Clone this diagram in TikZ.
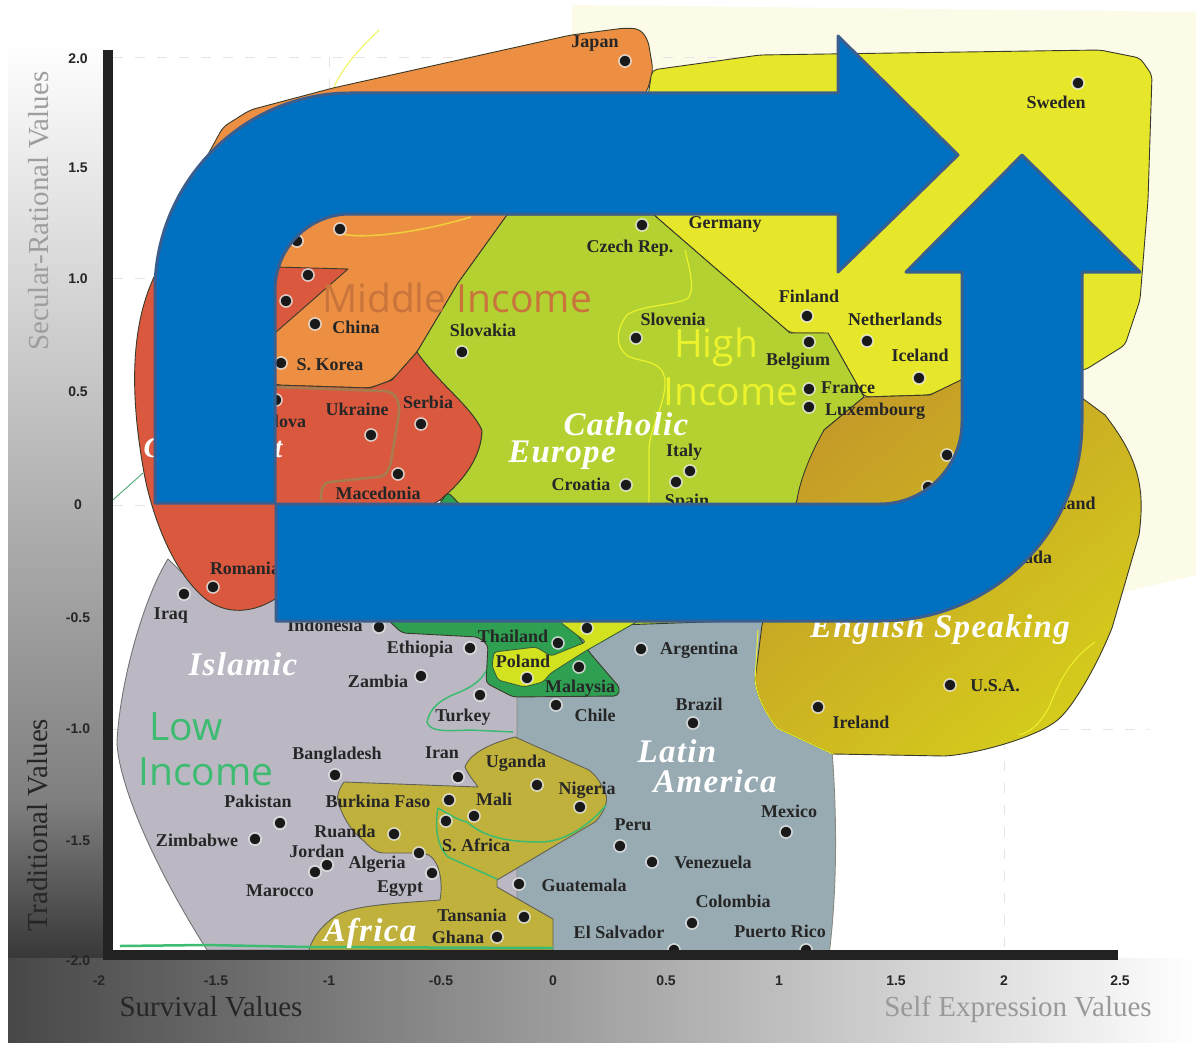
\documentclass[tikz,border=0pt]{standalone}
\usepackage{fontspec}
\setmainfont{Liberation Serif}
\newfontfamily\regfont{Open Sans}
\newfontfamily\tickfont{Liberation Sans}
\newfontfamily\bigfont[LetterSpace=4]{Liberation Serif}
\definecolor{cOrange}{HTML}{EC8F42}
\definecolor{cRed}{HTML}{D9583E}
\definecolor{cCath}{HTML}{B3D231}
\definecolor{cProt}{HTML}{E6E62B}
\definecolor{cEngA}{HTML}{C49A28}
\definecolor{cEngB}{HTML}{D5CC1C}
\definecolor{cLatin}{HTML}{98ABB3}
\definecolor{cIslam}{HTML}{BBB8C4}
\definecolor{cAfrica}{HTML}{BFB13C}
\definecolor{cGreen}{HTML}{2F9F52}
\definecolor{cLemon}{HTML}{D3E21F}
\definecolor{cPale}{HTML}{FBFBE8}
\definecolor{cLine}{HTML}{3A3A2A}
\definecolor{cLow}{HTML}{3DBB70}
\definecolor{cBlue}{HTML}{0070C0}
\definecolor{cBlueEdge}{HTML}{3A5F8F}
\definecolor{cAxis}{HTML}{222222}
\definecolor{cBrown}{HTML}{A87C4E}
\definecolor{cMid}{HTML}{C8743C}
\definecolor{cHigh}{HTML}{ECF22C}
\definecolor{cOrLine}{HTML}{F2CC3C}
\tikzset{
  x=1pt,y=-1pt,
  region/.style={draw=cLine,line width=0.9pt,line join=round},
  dotmark/.style={circle,fill=black!90,draw=white,draw opacity=0.75,line width=1.5pt,minimum size=12pt,inner sep=0pt},
  lab/.style={font=\fontsize{18}{18}\selectfont\bfseries,text=black!85,inner sep=0pt,text height=12pt,text depth=0pt},
  big/.style={font=\bigfont\fontsize{33}{33}\selectfont\bfseries\itshape,text=white,inner sep=0pt,text height=21pt,text depth=0pt},
  inc/.style={font=\regfont\fontsize{39}{39}\selectfont,inner sep=0pt},
  tick/.style={font=\tickfont\fontsize{14}{14}\selectfont\bfseries,text=black!85,inner sep=0pt},
  axt/.style={font=\fontsize{29}{29}\selectfont,inner sep=0pt},
  grid/.style={draw=black!10,line width=0.9pt,dash pattern=on 10pt off 12pt},
  bluearrow/.style={fill=cBlue,draw=cBlueEdge,line width=3pt,line join=round},
}
\begin{document}
\begin{tikzpicture}
\useasboundingbox (0,0) rectangle (1196,1043);
\fill[white] (0,0) rectangle (1196,1043);
% pale backdrop
\fill[cPale] (572,5) -- (1196,12) -- (1196,575) -- (1125,592) -- (1000,600) -- (572,600) -- cycle;
% side and bottom gradients
\shade[top color=white,bottom color=black!50] (8,40) rectangle (103,800);
\shade[top color=black!50,bottom color=black!78] (8,800) rectangle (103,958);
\shade[left color=black!72,middle color=black!30,right color=white] (8,958) rectangle (1196,1043);
\fill[white] (103,40) rectangle (113,958);
% grid
\draw[grid] (113,57) -- (1120,57);
\draw[grid] (113,278) -- (1120,278);
\draw[grid] (113,505) -- (1120,505);
\draw[grid] (113,729) -- (1150,729);
\draw[grid] (329,57) -- (329,950);
\draw[grid] (1004,57) -- (1004,950);
% thin lines outside the regions
\draw[cHigh!75!white,line width=1.1pt] (379,30) .. controls (360,48) and (340,70) .. (333,90);
\draw[cLow!70!gray,line width=0.9pt] (105,507) -- (143,473);
% Islamic
\path[region,draw=black!55,fill=cIslam] (168,559) .. controls (145,595) and (120,680) .. (117,742) .. controls (118,780) and (150,860) .. (207,950) -- (553,950) -- (517,600) -- (200,590) -- cycle;
% Latin America
\path[region,draw=cLine!60,fill=cLatin] (517,950) -- (517,600) -- (790,600) -- (790,725) -- (830,745) -- (832,750) .. controls (838,830) and (836,900) .. (829,955) -- cycle;
% Orange
\path[region,fill=cOrange,rounded corners=6pt] (640,29) -- (625,28) -- (571,35) -- (333,88) -- (250,110) -- (223,127) -- (205,160) -- (160,280) -- (275,385) -- (370,388) -- (392,380) -- (417,352) -- (458,283) -- (507,215) -- (647,92) -- (653,70) -- (648,40) -- cycle;
% Orthodox red
\path[region,fill=cRed] (154,277) .. controls (134,320) and (128,380) .. (143,467) .. controls (150,510) and (170,565) .. (199,593) .. controls (220,615) and (250,615) .. (275,599) -- (440,500) .. controls (465,480) and (482,455) .. (482,430) .. controls (470,405) and (440,385) .. (417,352) -- (392,380) -- (370,388) -- (275,385) -- (275,333) -- (348,269) -- (275,267) -- cycle;
\draw[cBrown,line width=2.6pt] (274,387) -- (385,391) .. controls (395,392) and (400,400) .. (399,413) -- (392,455) .. controls (390,472) and (385,477) .. (377,477) -- (330,482) .. controls (322,483) and (321,490) .. (321,500);
% Protestant yellow
\path[region,fill=cProt,rounded corners=5pt] (652,70) -- (760,55) -- (1100,50) -- (1140,58) -- (1152,75) -- (1148,200) -- (1140,300) -- (1125,345) -- (1085,370) -- (962,380) -- (930,395) -- (864,397) -- (828,333) -- (790,333) -- (654,215) -- (640,150) -- cycle;
% Catholic
\path[region,fill=cCath] (507,215) -- (654,215) -- (790,333) -- (828,333) -- (864,397) -- (824,430) -- (797,500) -- (760,620) -- (620,625) -- (440,500) .. controls (465,480) and (482,455) .. (482,430) .. controls (470,405) and (440,385) .. (417,352) -- (458,283) -- cycle;
\draw[cHigh,line width=1.2pt] (685,250) .. controls (690,270) and (695,290) .. (688,298) .. controls (680,305) and (640,305) .. (627,315) .. controls (615,330) and (615,350) .. (630,357) .. controls (645,363) and (662,360) .. (665,380) .. controls (666,405) and (650,425) .. (649,450) -- (649,505);
\draw[cOrLine,line width=1.6pt] (339,233) .. controls (350,238) and (400,238) .. (471,217);
% English speaking
\path[region,shading=axis,top color=cEngA,middle color=cEngB,bottom color=cEngB,shading angle=40] (864,397) -- (824,430) .. controls (810,455) and (800,480) .. (797,500) -- (762,625) -- (755,680) .. controls (757,697) and (765,712) .. (777,728) -- (833,754) -- (944,756) .. controls (970,755) and (1030,740) .. (1055,722) .. controls (1070,712) and (1095,670) .. (1112,628) -- (1139,535) .. controls (1145,490) and (1140,460) .. (1105,415) -- (1082,398) -- (965,378) -- (930,395) -- cycle;
\draw[cHigh,line width=1pt] (1095,642) .. controls (1070,660) and (1060,680) .. (1050,705) .. controls (1040,725) and (1030,732) .. (1019,735);
\draw[cHigh,line width=1pt] (758,630) -- (755,680) .. controls (757,697) and (765,712) .. (777,728) -- (833,754);
% Dark green
\path[region,fill=cGreen,rounded corners=4pt] (448,492) -- (560,610) -- (590,653) -- (620,688) -- (618,696) -- (513,697) -- (486,683) -- (488,645) -- (478,637) -- (402,633) -- (388,620) -- (400,560) -- cycle;
% Lemon wedge and Poland
\path[region,draw=cLine!60!cGreen,fill=cLemon,rounded corners=3pt] (640,620) -- (584,652) -- (551,673) -- (543,682) -- (524,687) -- (498,680) -- (492,666) -- (494,652) -- (536,647) -- (551,656) -- (586,642) -- (560,622) -- (600,600) -- cycle;
% Africa
\path[region,draw=cLine!80,fill=cAfrica] (515,737) .. controls (495,742) and (470,752) .. (465,767) .. controls (470,778) and (475,782) .. (478,787) -- (344,782) .. controls (338,790) and (336,798) .. (339,805) .. controls (345,822) and (355,835) .. (364,841) .. controls (372,850) and (378,853) .. (383,853) -- (419,853) .. controls (428,853) and (432,857) .. (434,860) .. controls (442,870) and (442,890) .. (440,900) .. controls (400,903) and (355,905) .. (337,915) .. controls (322,925) and (312,938) .. (309,950) -- (553,950) -- (553,919) -- (497,887) -- (497,880) -- (595,822) .. controls (605,812) and (608,800) .. (606,795) .. controls (600,780) and (595,775) .. (589,770) -- cycle;
% low income lines
\draw[cLow,line width=1.5pt] (486,671) .. controls (480,682) and (470,688) .. (455,694) .. controls (440,700) and (430,708) .. (427,722) .. controls (430,732) and (445,731) .. (470,730) -- (513,732);
\draw[cLow,line width=1.5pt] (438,808) .. controls (435,825) and (436,845) .. (448,857) -- (497,879);
\draw[cLow,line width=1.5pt] (438,808) .. controls (450,815) and (458,820) .. (467,822) .. controls (485,838) and (510,842) .. (540,842) .. controls (565,842) and (590,825) .. (606,805);
\draw[cLow,line width=2.5pt] (120,946) -- (205,945) -- (310,947) -- (553,948);
% dots
\foreach \px/\py in {625/61,1078/83,642/225,340/229,297/241,308/275,286/301,315/324,281/363,276/400,371/435,421/424,398/474,462/352,636/338,807/316,867/341,809/342,919/378,809/389,809/407,626/485,690/471,676/482,947/455,928/487,213/587,184/594,379/627,470/648,421/676,480/695,558/643,527/678,579/667,587/628,641/649,556/705,693/723,950/685,818/707,335/775,458/777,537/785,580/807,449/800,474/816,446/821,280/823,255/839,394/834,327/865,315/872,419/853,432/873,620/846,652/862,786/832,519/884,692/923,524/917,497/937,674/950,806/950}
  \node[dotmark] at (\px,\py) {};
% country labels
\foreach \px/\py/\t in {595/42/Japan,1056/103/Sweden,725/222/Germany,630/246/Czech Rep.,356/327/China,330/364/S. Korea,272/421/Moldova,357/409/Ukraine,428/402/Serbia,378/493/Macedonia,483/330/Slovakia,673/319/Slovenia,809/296/Finland,895/319/Netherlands,798/359/Belgium,920/355/Iceland,848/387/France,875/409/Luxembourg,581/484/Croatia,684/450/Italy,687/500/Spain,1022/557/Canada,1064/503/Zealand,245/568/Romania,171/613/Iraq,325/625/Indonesia,420/647/Ethiopia,378/681/Zambia,463/715/Turkey,513/636/Thailand,523/661/Poland,580/686/Malaysia,699/648/Argentina,595/715/Chile,699/704/Brazil,995/685/U.S.A.,861/722/Ireland,337/753/Bangladesh,442/752/Iran,516/761/Uganda,587/788/Nigeria,378/801/Burkina Faso,494/799/Mali,476/845/S. Africa,258/801/Pakistan,197/840/Zimbabwe,345/831/Ruanda,317/851/Jordan,377/862/Algeria,400/886/Egypt,280/890/Marocco,633/824/Peru,713/862/Venezuela,789/811/Mexico,584/885/Guatemala,733/901/Colombia,472/915/Tansania,458/937/Ghana,619/932/El Salvador,780/931/Puerto Rico}
  \node[lab] at (\px,\py) {\t};
% region labels
\node[big] at (243,665) {Islamic};
\node[big] at (677,752) {Latin};
\node[big] at (715,782) {America};
\node[big] at (370,931) {Africa};
\node[big] at (940,627) {English Speaking};
\node[big] at (626,425) {Catholic};
\node[big] at (562,452) {Europe};
\node[big,font=\fontsize{29}{29}\selectfont\bfseries\itshape] at (213,447) {Communist};
\node[inc,text=cLow] at (186,727) {Low};
\node[inc,text=cLow] at (206,772) {Income};
\node[inc,text=cMid] at (457,298) {Middle Income};
\node[inc,text=cHigh] at (716,347) {High};
\node[inc,text=cHigh] at (731,392) {Income};
% axes
\draw[cAxis,line width=10pt] (108,50) -- (108,955);
\draw[cAxis,line width=10pt] (103,955) -- (1118,955);
% ticks
\foreach \py/\t in {59/2.0,168/1.5,279/1.0,392/0.5,505/0,618/-0.5,729/-1.0,841/-1.5,961/-2.0}
  \node[tick] at (78,\py) {\t};
\foreach \px/\t in {99/-2,216/-1.5,329/-1,441/-0.5,553/0,666/0.5,779/1,896/1.5,1004/2,1120/2.5}
  \node[tick] at (\px,981) {\t};
% axis titles
\node[axt,text=black!38,rotate=90] at (39,211) {Secular-Rational Values};
\node[axt,text=black!85,rotate=90] at (38,825) {Traditional Values};
\node[axt,text=black!85] at (211,1007) {Survival Values};
\node[axt,text=black!40] at (1018,1009) {Self Expression Values};
% big blue arrows
\path[bluearrow] (155,503) -- (155,290) .. controls (155,182) and (243,93) .. (350,93) -- (838,93) -- (838,36) -- (958,155) -- (838,272) -- (838,214) -- (350,214) .. controls (309,214) and (275,248) .. (275,290) -- (275,503) -- cycle;
\path[bluearrow] (276,504) -- (880,504) .. controls (925,504) and (962,467) .. (962,422) -- (962,272) -- (906,272) -- (1022,155) -- (1140,272) -- (1082,272) -- (1082,422) .. controls (1082,533) and (992,621) .. (880,621) -- (276,621) -- cycle;
\end{tikzpicture}
\end{document}
